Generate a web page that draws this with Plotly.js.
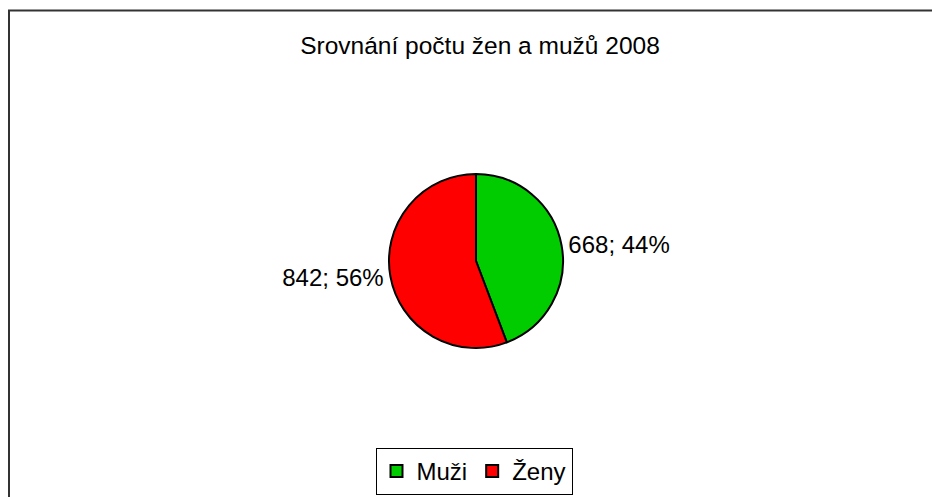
<!DOCTYPE html>
<html>
<head>
<meta charset="utf-8">
<script src="https://cdn.plot.ly/plotly-3.0.1.min.js"></script>
<style>
html,body{margin:0;padding:0;background:#fff;}
#chart{width:932px;height:497px;}
</style>
</head>
<body>
<div id="chart"></div>
<script>
const categories = ["Muži", "Ženy"];
const values = [668, 842];
const colors = ["#00CC00", "#FF0000"];
const chartTitle = "Srovnání počtu žen a mužů 2008";

const W = 932, H = 497;
const cx = 476, cy = 261, R = 87;
const FONT = "Liberation Sans, Arial, sans-serif";

const trace = {
  type: "pie",
  labels: categories,
  values: values,
  sort: false,
  direction: "clockwise",
  rotation: 0,
  marker: {colors: colors, line: {color: "#000", width: 2}},
  textposition: "outside",
  texttemplate: "%{value}; %{percent:.0%}",
  outsidetextfont: {family: FONT, size: 24, color: "#000"},
  hoverinfo: "label+value+percent",
  domain: {x: [(cx - R) / W, (cx + R) / W], y: [1 - (cy + R) / H, 1 - (cy - R) / H]},
  automargin: false
};

const layout = {
  width: W, height: H,
  margin: {l: 0, r: 0, t: 0, b: 0},
  paper_bgcolor: "#fff",
  plot_bgcolor: "#fff",
  font: {family: FONT, size: 24, color: "#000"},
  title: {text: chartTitle, x: 480 / W, xanchor: "center", y: 1 - 45 / H, yanchor: "middle", yref: "container", xref: "paper",
          font: {family: FONT, size: 24.5, color: "#000"}},
  showlegend: true,
  legend: {orientation: "h", x: 474 / W, xanchor: "center", y: 2 / H, yanchor: "bottom",
           bordercolor: "#000", borderwidth: 1, bgcolor: "#fff",
           font: {family: FONT, size: 24, color: "#000"},
           itemwidth: 30, traceorder: "normal"},
  shapes: [{type: "rect", xref: "paper", yref: "paper",
            x0: 9 / W, x1: 1.2, y0: -0.2, y1: 1 - 10.5 / H,
            line: {color: "#333", width: 2}, fillcolor: "rgba(0,0,0,0)", layer: "below"}]
};

Plotly.newPlot("chart", [trace], layout, {displayModeBar: false, staticPlot: true});
</script>
</body>
</html>
